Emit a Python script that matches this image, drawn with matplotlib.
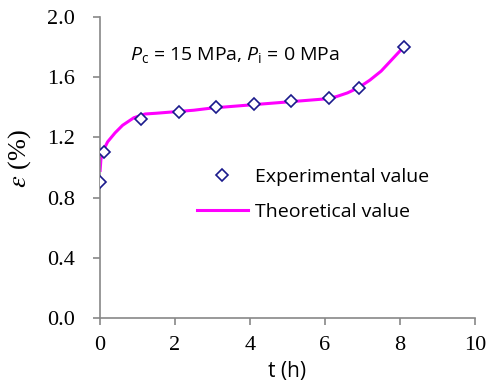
import matplotlib.pyplot as plt

plt.rcParams['mathtext.fontset'] = 'custom'
plt.rcParams['mathtext.rm'] = 'Open Sans'
plt.rcParams['mathtext.it'] = 'Open Sans:italic'

# experimental points
t_exp = [0, 0.1, 1.1, 2.1, 3.1, 4.1, 5.1, 6.1, 6.9, 8.1]
eps_exp = [0.90, 1.10, 1.32, 1.37, 1.40, 1.42, 1.44, 1.46, 1.53, 1.80]

# theoretical curve
t_th = [0, 0.02, 0.05, 0.1, 0.2, 0.4, 0.6, 0.9, 1.2, 1.5, 2.0, 2.5, 3.0, 3.5, 4.0,
        4.5, 5.0, 5.5, 6.0, 6.3, 6.6, 6.9, 7.2, 7.5, 7.8, 8.1]
eps_th = [0.98, 1.05, 1.09, 1.12, 1.17, 1.23, 1.28, 1.33, 1.355, 1.36, 1.37, 1.38,
          1.395, 1.405, 1.415, 1.425, 1.435, 1.445, 1.455, 1.47, 1.495, 1.53,
          1.58, 1.64, 1.72, 1.80]

fig = plt.figure(figsize=(4.86, 3.84), dpi=100)
ax = fig.add_axes([0.206, 0.172, 0.771, 0.784])

ax.plot(t_th, eps_th, color='#ff00ff', lw=2.2, label='Theoretical value', zorder=2)
ax.plot(t_exp, eps_exp, ls='none', marker='D', ms=6.5, mfc='white', mec='#1a1a8c',
        mew=1.2, label='Experimental value', zorder=3)

ax.set_xlim(0, 10)
ax.set_ylim(0, 2.0)
ax.set_xticks([0, 2, 4, 6, 8, 10])
ax.set_yticks([0, 0.4, 0.8, 1.2, 1.6, 2.0])
ax.set_yticklabels(['0.0', '0.4', '0.8', '1.2', '1.6', '2.0'])
for s in ['top', 'right']:
    ax.spines[s].set_visible(False)
for s in ['left', 'bottom']:
    ax.spines[s].set_color('#888888')
    ax.spines[s].set_linewidth(1.2)
ax.tick_params(color='#888888', length=5, width=1.2, labelsize=16)
ax.tick_params(axis='y', pad=13)
ax.tick_params(axis='x', pad=8)
for lab in ax.get_xticklabels() + ax.get_yticklabels():
    lab.set_family('Liberation Serif')

ax.set_xlabel('t (h)', fontsize=15, family='Open Sans', labelpad=4)
ax.set_ylabel(r'$\varepsilon$ (%)', fontsize=19, family='Liberation Serif',
              math_fontfamily='stix')
ax.yaxis.set_label_coords(-0.18, 0.53)

ax.text(0.8, 1.75, r'$P_{\mathrm{c}}$ = 15 MPa, $P_{\mathrm{i}}$ = 0 MPa',
        fontsize=14, family='Open Sans', va='center')

h, l = ax.get_legend_handles_labels()
ax.legend(h[::-1], l[::-1], loc='upper left', bbox_to_anchor=(0.259, 0.498),
          frameon=False, prop={'family': 'Open Sans', 'size': 14},
          handlelength=2.6, handletextpad=0.4, labelspacing=0.85,
          borderpad=0, borderaxespad=0)

fig.savefig('out.png')
